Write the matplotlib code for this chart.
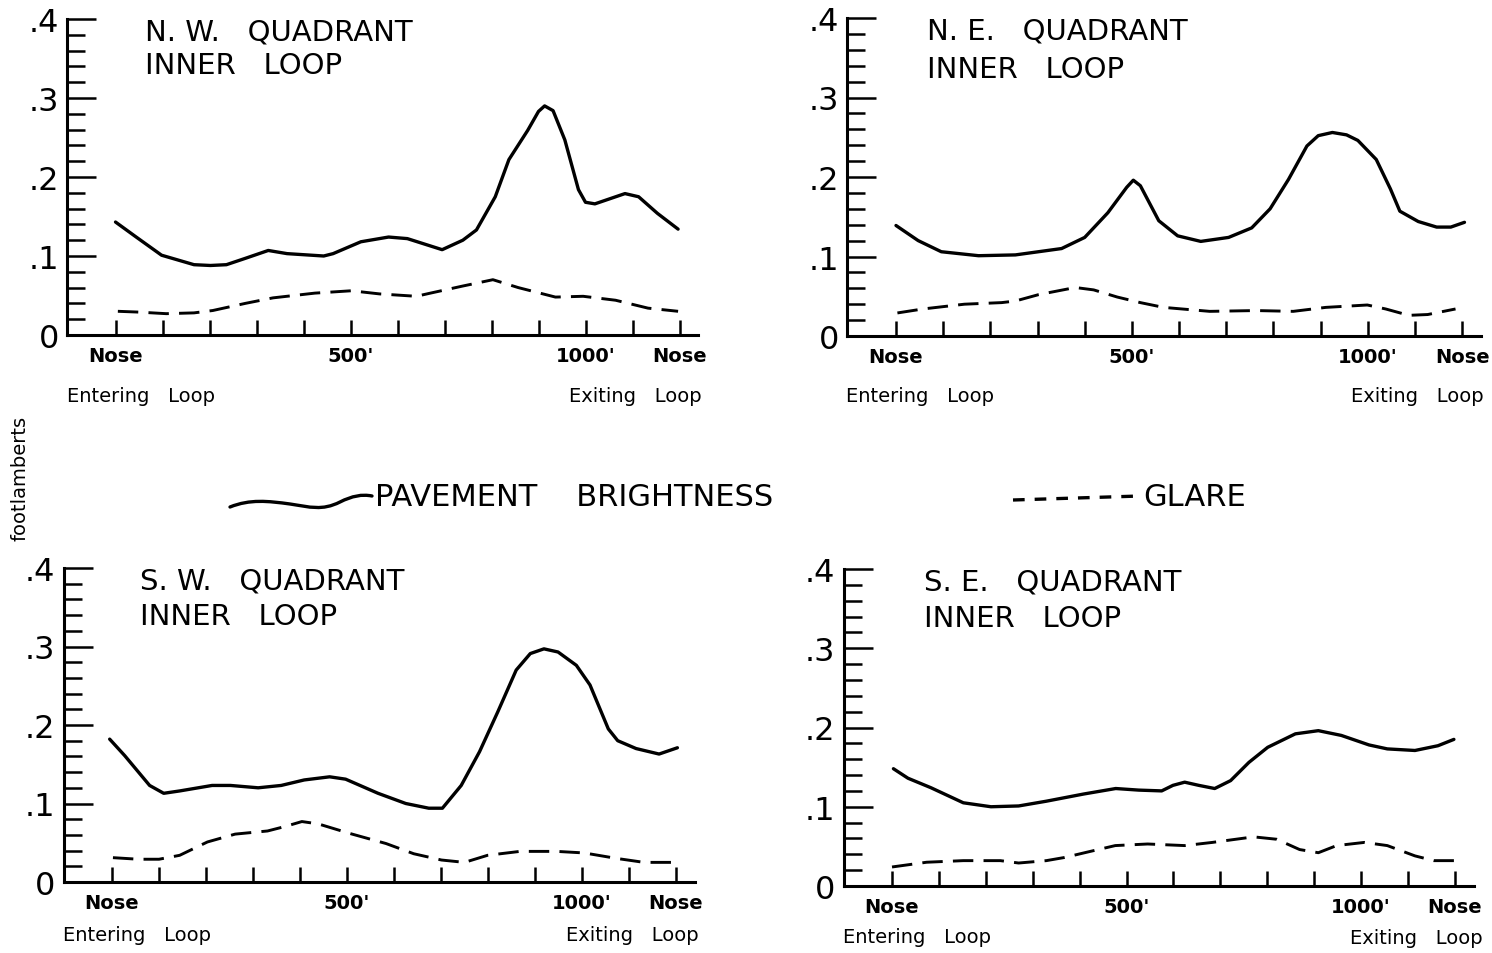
import matplotlib
matplotlib.use("Agg")
import matplotlib.pyplot as plt
from matplotlib.path import Path
from matplotlib.patches import PathPatch
from matplotlib.lines import Line2D

# ---- data: distance along the inner loop (ft) and luminance (footlamberts) ----
nw_x_pave = [0, 44, 98, 167, 202, 236, 276, 325, 365, 443, 463, 522, 581, 621, 695,
             739, 768, 808, 837, 877, 900, 913, 931, 956, 985, 1000, 1020, 1084, 1113,
             1153, 1197]
nw_pave = [0.143, 0.124, 0.101, 0.089, 0.088, 0.089, 0.097, 0.107, 0.103, 0.100, 0.103,
           0.118, 0.124, 0.122, 0.108, 0.120, 0.133, 0.175, 0.222, 0.259, 0.283, 0.290,
           0.284, 0.247, 0.184, 0.168, 0.166, 0.179, 0.175, 0.154, 0.134]
nw_x_glare = [5, 49, 108, 167, 207, 276, 335, 424, 502, 562, 640, 670, 739, 803, 857,
              936, 995, 1064, 1133, 1197]
nw_glare = [0.030, 0.029, 0.027, 0.028, 0.031, 0.040, 0.047, 0.053, 0.056, 0.052, 0.049,
            0.053, 0.062, 0.070, 0.060, 0.048, 0.049, 0.044, 0.034, 0.030]

ne_x_pave = [0, 47, 96, 175, 253, 351, 400, 449, 489, 503, 518, 557, 597, 646, 705, 754,
             793, 832, 871, 895, 925, 955, 979, 1018, 1048, 1068, 1107, 1146, 1176, 1205]
ne_pave = [0.139, 0.120, 0.106, 0.101, 0.102, 0.110, 0.124, 0.155, 0.187, 0.196, 0.189,
           0.145, 0.126, 0.119, 0.124, 0.136, 0.160, 0.197, 0.239, 0.252, 0.256, 0.253,
           0.246, 0.222, 0.185, 0.157, 0.144, 0.137, 0.137, 0.143]
ne_x_glare = [3, 57, 145, 224, 253, 302, 380, 419, 469, 518, 567, 665, 763, 842, 911,
              999, 1038, 1087, 1127, 1186]
ne_glare = [0.029, 0.034, 0.040, 0.042, 0.044, 0.052, 0.061, 0.058, 0.049, 0.042, 0.036,
            0.031, 0.032, 0.031, 0.036, 0.039, 0.034, 0.026, 0.027, 0.034]

sw_x_pave = [-5, 27, 80, 110, 144, 213, 252, 311, 360, 409, 463, 497, 566, 625, 674, 703,
             743, 782, 821, 860, 890, 919, 949, 988, 1017, 1056, 1076, 1115, 1164, 1203]
sw_pave = [0.182, 0.161, 0.123, 0.113, 0.116, 0.123, 0.123, 0.120, 0.123, 0.130, 0.134,
           0.131, 0.113, 0.100, 0.094, 0.094, 0.123, 0.166, 0.217, 0.270, 0.291, 0.297,
           0.293, 0.276, 0.251, 0.195, 0.180, 0.170, 0.163, 0.171]
sw_x_glare = [2, 56, 100, 144, 203, 262, 331, 370, 404, 439, 505, 583, 642, 701, 750,
              799, 868, 946, 1005, 1074, 1132, 1191]
sw_glare = [0.031, 0.029, 0.029, 0.034, 0.051, 0.061, 0.065, 0.071, 0.077, 0.074, 0.062,
            0.049, 0.036, 0.028, 0.025, 0.034, 0.039, 0.039, 0.037, 0.030, 0.025, 0.025]

se_x_pave = [3, 34, 83, 152, 211, 270, 329, 408, 477, 526, 575, 599, 624, 654, 688, 722,
             761, 801, 860, 909, 958, 1017, 1056, 1115, 1164, 1198]
se_pave = [0.148, 0.136, 0.124, 0.105, 0.100, 0.101, 0.107, 0.116, 0.123, 0.121, 0.120,
           0.127, 0.131, 0.127, 0.123, 0.133, 0.156, 0.175, 0.192, 0.196, 0.190, 0.178,
           0.173, 0.171, 0.177, 0.185]
se_x_glare = [0, 74, 152, 231, 270, 329, 368, 418, 476, 545, 624, 683, 771, 820, 869,
              909, 948, 1007, 1056, 1115, 1155, 1198]
se_glare = [0.024, 0.030, 0.032, 0.032, 0.029, 0.032, 0.036, 0.043, 0.051, 0.053, 0.051,
            0.055, 0.062, 0.059, 0.046, 0.042, 0.051, 0.055, 0.051, 0.038, 0.032, 0.032]

quadrants = ["N. W.   QUADRANT", "N. E.   QUADRANT", "S. W.   QUADRANT", "S. E.   QUADRANT"]
subtitle = "INNER   LOOP"
x_ticks = list(range(0, 1300, 100))
x_tick_labels = ["Nose", "", "", "", "", "500'", "", "", "", "", "1000'", "", "Nose"]
y_major = [0.0, 0.1, 0.2, 0.3, 0.4]
y_major_labels = ["0", ".1", ".2", ".3", ".4"]
y_minor = [0.02, 0.04, 0.06, 0.08, 0.12, 0.14, 0.16, 0.18, 0.22, 0.24, 0.26, 0.28,
           0.32, 0.34, 0.36, 0.38]

# ---- figure ----
W, H = 1492, 954
fig = plt.figure(figsize=(W / 100, H / 100), dpi=100)
fig.patch.set_facecolor("white")

LETTER = ["DejaVu Sans"]
INK = "black"


def axes_px(left, right, top, bottom):
    return fig.add_axes([left / W, 1 - bottom / H, (right - left) / W, (bottom - top) / H])


def fig_text(x, y, s, **kw):
    fig.text(x / W, 1 - y / H, s, **kw)


panels = [
    dict(box=(67.1, 698.3, 20, 336), px=nw_x_pave, py=nw_pave, gx=nw_x_glare, gy=nw_glare,
         title=quadrants[0], tx=63, ty2=0.359),
    dict(box=(847.4, 1481.0, 19, 337), px=ne_x_pave, py=ne_pave, gx=ne_x_glare, gy=ne_glare,
         title=quadrants[1], tx=66, ty2=0.354),
    dict(box=(63.6, 694.8, 569, 883), px=sw_x_pave, py=sw_pave, gx=sw_x_glare, gy=sw_glare,
         title=quadrants[2], tx=60, ty2=0.357),
    dict(box=(843.7, 1473.6, 570, 887), px=se_x_pave, py=se_pave, gx=se_x_glare, gy=se_glare,
         title=quadrants[3], tx=68, ty2=0.356),
]

for p in panels:
    ax = axes_px(*p["box"])
    ax.set_xlim(-103, 1240)
    ax.set_ylim(0, 0.4)
    ax.set_facecolor("none")
    for side in ("top", "right"):
        ax.spines[side].set_visible(False)
    for side in ("left", "bottom"):
        ax.spines[side].set_linewidth(2.2)
        ax.spines[side].set_color(INK)

    ax.plot(p["px"], p["py"], color=INK, lw=2.4, solid_capstyle="round",
            solid_joinstyle="round", clip_on=False)
    ax.plot(p["gx"], p["gy"], color=INK, lw=2.1, linestyle=(0, (7, 3.5)),
            dash_capstyle="butt", clip_on=False)

    ax.set_xticks(x_ticks)
    ax.set_xticklabels(x_tick_labels, family=LETTER, fontsize=14, fontweight="bold")
    ax.tick_params(axis="x", direction="in", length=11, width=1.8, pad=8, colors=INK)

    ax.set_yticks(y_major)
    ax.set_yticklabels(y_major_labels, family=LETTER, fontsize=23)
    ax.set_yticks(y_minor, minor=True)
    ax.tick_params(axis="y", which="major", direction="in", length=21, width=1.8, pad=6)
    ax.tick_params(axis="y", which="minor", direction="in", length=13, width=1.8)

    ax.text(p["tx"], 0.402, p["title"], family=LETTER, fontsize=21, va="top", ha="left")
    ax.text(p["tx"], p["ty2"], subtitle, family=LETTER, fontsize=21, va="top", ha="left")

# road-direction captions under each axis
fig_text(67, 396, "Entering   Loop", family=LETTER, fontsize=14, va="center", ha="left")
fig_text(702, 396, "Exiting   Loop", family=LETTER, fontsize=14, va="center", ha="right")
fig_text(846, 396, "Entering   Loop", family=LETTER, fontsize=14, va="center", ha="left")
fig_text(1484, 396, "Exiting   Loop", family=LETTER, fontsize=14, va="center", ha="right")
fig_text(63, 936, "Entering   Loop", family=LETTER, fontsize=14, va="center", ha="left")
fig_text(699, 936, "Exiting   Loop", family=LETTER, fontsize=14, va="center", ha="right")
fig_text(843, 938, "Entering   Loop", family=LETTER, fontsize=14, va="center", ha="left")
fig_text(1483, 939, "Exiting   Loop", family=LETTER, fontsize=14, va="center", ha="right")

# shared y-axis unit
fig_text(20, 478, "footlamberts", family=LETTER, fontsize=14, rotation=90,
         va="center", ha="center")

# key: wavy stroke for pavement brightness, dashed stroke for glare
def to_fig(x, y):
    return (x / W, 1 - y / H)

wave = [to_fig(230, 508), to_fig(250, 500), to_fig(268, 502), to_fig(290, 505),
        to_fig(310, 508), to_fig(322, 512), to_fig(340, 503),
        to_fig(352, 497), to_fig(362, 495), to_fig(372, 497)]
codes = [Path.MOVETO] + [Path.CURVE4] * 9
fig.add_artist(PathPatch(Path(wave, codes), transform=fig.transFigure, fill=False,
                         lw=2.4, edgecolor=INK, capstyle="round"))
fig_text(375, 497, "PAVEMENT    BRIGHTNESS", family=LETTER, fontsize=22, va="center",
         ha="left")

fig.add_artist(Line2D([1013 / W, 1140 / W], [1 - 501 / H, 1 - 497 / H],
                      transform=fig.transFigure, color=INK, lw=2.4,
                      linestyle=(0, (3.5, 3))))
fig_text(1143, 497, "GLARE", family=LETTER, fontsize=22, va="center", ha="left")

fig.savefig("out.png", dpi=100, facecolor="white")
